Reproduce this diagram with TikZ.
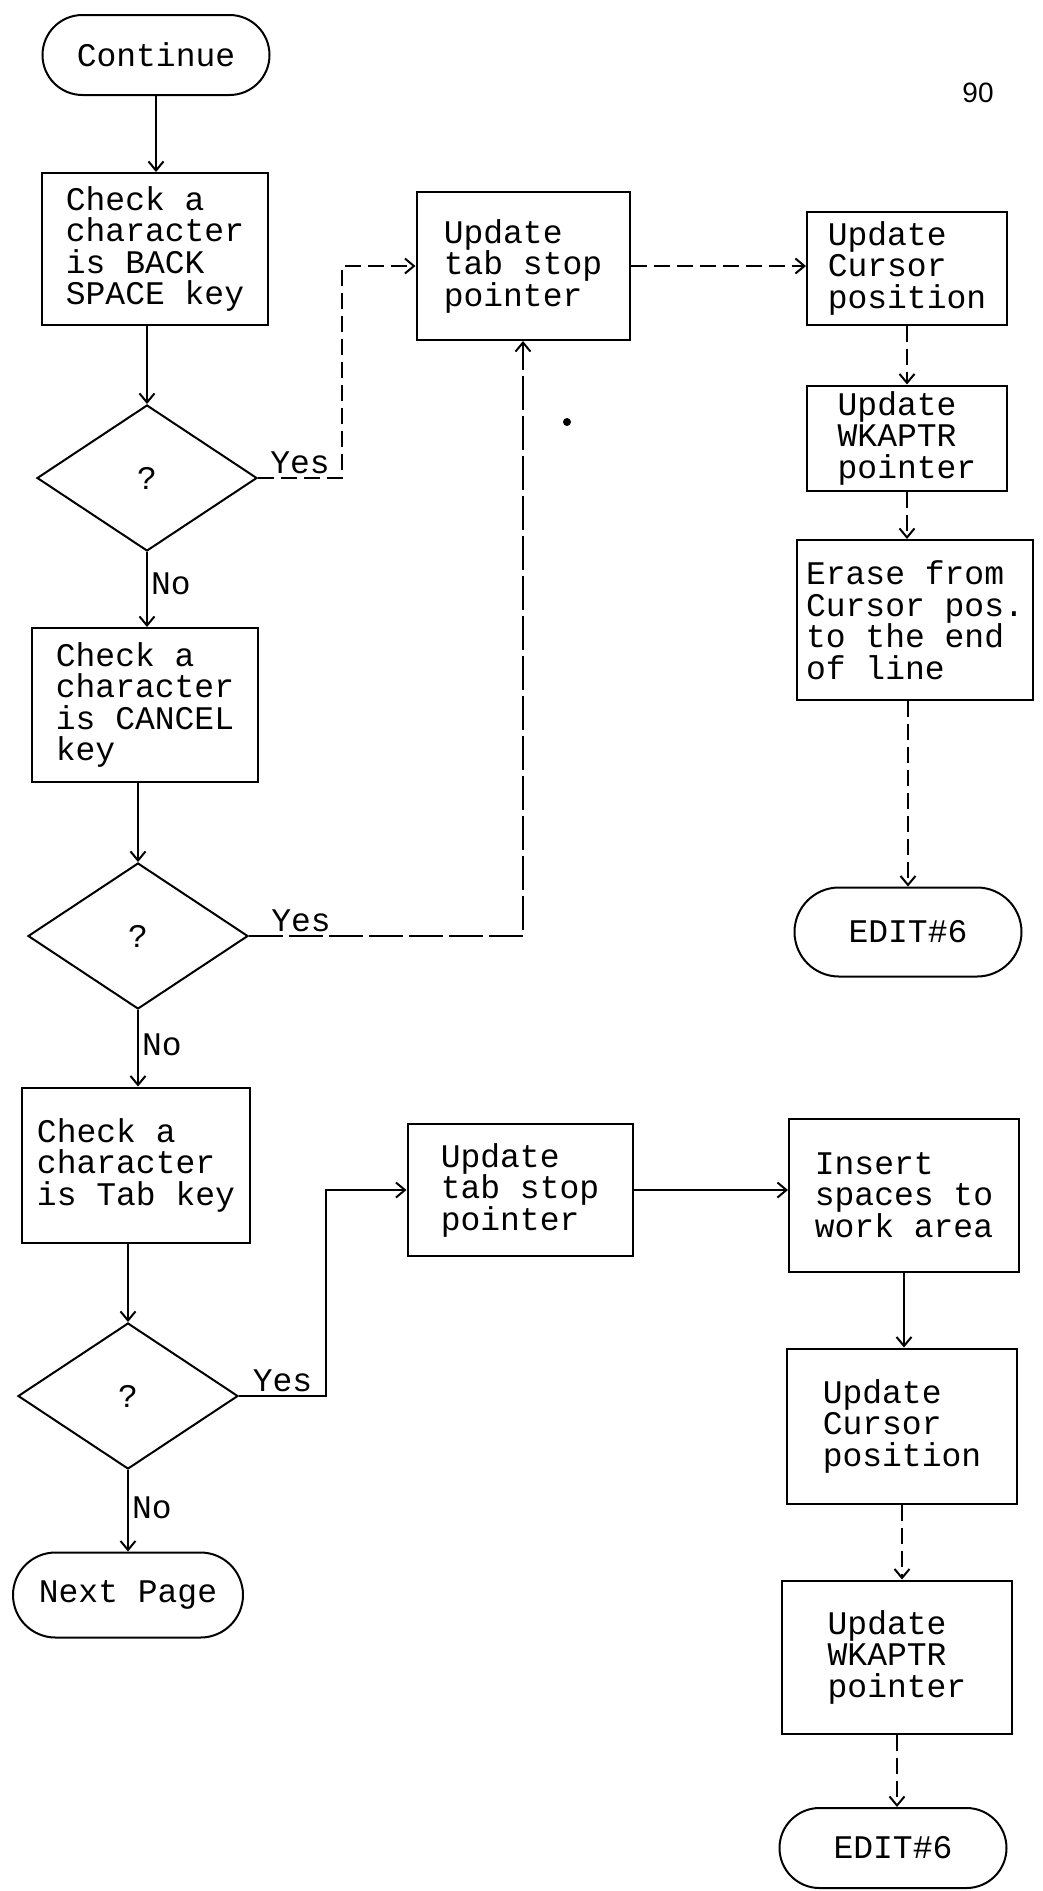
\documentclass[tikz,border=0pt]{standalone}
\usepackage{fontspec}
\setmonofont{Liberation Mono}
\setsansfont{Liberation Sans}
\usetikzlibrary{shapes.geometric,shapes.misc,arrows.meta}

\tikzset{
  typed/.style={font=\ttfamily\fontsize{33}{31.5}\selectfont},
  procbox/.style={draw, line width=2pt, typed, align=left, inner sep=0pt},
  termbox/.style={draw, line width=2pt, rounded rectangle, typed, inner sep=0pt},
  testbox/.style={draw, line width=2pt, diamond, typed, inner sep=0pt,
    minimum width=220pt, minimum height=146pt},
  flow/.style={->, line width=2pt},
  dashflow/.style={flow, dash pattern=on 16pt off 7pt},
  longdash/.style={flow, dash pattern=on 34pt off 6pt},
  lbl/.style={typed, inner sep=3pt}
}

\begin{document}
\begin{tikzpicture}[x=1pt, y=-1pt, >={Straight Barb[length=9pt,width=15pt]}]
    \useasboundingbox (0,0) rectangle (1043,1891);

    % Left column: the three key tests
    \node[termbox, minimum width=227pt, minimum height=80pt] (cont) at (156,55) {Continue};
    \node[procbox, minimum width=226pt, minimum height=152pt] (bsbox) at (155,249) {Check a\\character\\is BACK\\SPACE key};
    \node[testbox] (q1) at (147,478) {?};
    \node[procbox, minimum width=226pt, minimum height=154pt] (cnbox) at (145,705) {Check a\\character\\is CANCEL\\key};
    \node[testbox] (q2) at (138,936) {?};
    \node[procbox, minimum width=228pt, minimum height=155pt] (tbbox) at (136,1165) {Check a\\character\\is Tab key};
    \node[testbox] (q3) at (128,1396) {?};
    \node[termbox, minimum width=230pt, minimum height=85pt] (next) at (128,1595) {Next Page};

    % Middle column
    \node[procbox, minimum width=213pt, minimum height=148pt] (tab1) at (523,266) {Update\\tab stop\\pointer};
    \node[procbox, minimum width=225pt, minimum height=132pt] (tab2) at (520,1190) {Update\\tab stop\\pointer};

    % Right column, upper branch
    \node[procbox, minimum width=200pt, minimum height=113pt] (cur1) at (907,268) {Update\\Cursor\\position};
    \node[procbox, minimum width=200pt, minimum height=105pt] (wk1) at (907,438) {Update\\WKAPTR\\pointer};
    \node[procbox, minimum width=236pt, minimum height=160pt] (erase) at (915,620) {Erase from\\Cursor pos.\\to the end\\of line};
    \node[termbox, minimum width=227pt, minimum height=89pt] (edit1) at (908,932) {EDIT\#6};

    % Right column, lower branch
    \node[procbox, minimum width=230pt, minimum height=153pt] (ins) at (904,1195) {Insert\\spaces to\\work area};
    \node[procbox, minimum width=230pt, minimum height=155pt] (cur2) at (902,1426) {Update\\Cursor\\position};
    \node[procbox, minimum width=230pt, minimum height=153pt] (wk2) at (897,1657) {Update\\WKAPTR\\pointer};
    \node[termbox, minimum width=227pt, minimum height=80pt] (edit2) at (893,1848) {EDIT\#6};

    % Page number and stray mark
    \node[font=\sffamily\fontsize{28}{30}\selectfont] (pgno) at (978,93) {90};
    \fill (567,422) circle (4pt);

    % Corners of the Yes branches
    \coordinate (j1) at (342,478);
    \coordinate (j2) at (q2.east -| tab1.south);
    \coordinate (j3) at (326,1396);

    % Main flow
    \draw[flow] (cont.south) -- (cont.south |- bsbox.north);
    \draw[flow] (q1.north |- bsbox.south) -- (q1.north);
    \draw[flow] (q1.south) -- node[lbl, right, pos=0.42] {No} (q1.south |- cnbox.north);
    \draw[flow] (q2.north |- cnbox.south) -- (q2.north);
    \draw[flow] (q2.south) -- node[lbl, right, pos=0.45] {No} (q2.south |- tbbox.north);
    \draw[flow] (q3.north |- tbbox.south) -- (q3.north);
    \draw[flow] (q3.south) -- node[lbl, right, pos=0.46] {No} (next.north);

    % Yes branches
    \draw[dashflow] (q1.east) -- node[lbl, above] {Yes} (j1) |- (tab1.west);
    \draw[longdash] (q2.east) -- node[lbl, above, pos=0.19] {Yes} (j2) -- (tab1.south);
    \draw[flow] (q3.east) -- node[lbl, above] {Yes} (j3) |- (tab2.west);

    % Upper branch
    \draw[dashflow] (tab1.east) -- (tab1.east -| cur1.west);
    \draw[dashflow] (cur1.south) -- (wk1.north);
    \draw[dashflow] (wk1.south) -- (wk1.south |- erase.north);
    \draw[dashflow] (edit1.north |- erase.south) -- (edit1.north);

    % Lower branch
    \draw[flow] (tab2.east) -- (tab2.east -| ins.west);
    \draw[flow] (ins.south) -- (ins.south |- cur2.north);
    \draw[dashflow] (cur2.south) -- (cur2.south |- wk2.north);
    \draw[dashflow] (wk2.south) -- (wk2.south |- edit2.north);
\end{tikzpicture}
\end{document}
